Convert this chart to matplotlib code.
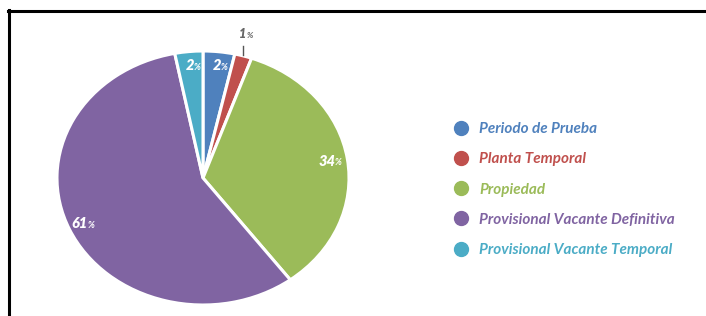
import matplotlib
matplotlib.use("Agg")
import matplotlib.pyplot as plt
from matplotlib.lines import Line2D
import numpy as np

categories = ["Periodo de Prueba", "Planta Temporal", "Propiedad",
              "Provisional Vacante Definitiva", "Provisional Vacante Temporal"]
values = [3.5, 1.9, 34.4, 57.1, 3.1]          # wedge sizes as drawn
pct_labels = ["2", "1", "34", "61", "2"]       # printed percentages
colors = ["#4F81BD", "#C0504D", "#9BBB59", "#8064A2", "#4BACC6"]

W, H = 706, 316
fig = plt.figure(figsize=(W / 100, H / 100), dpi=100)
fig.patch.set_facecolor("white")

# pie axes: maps [-1,1] to pixel box
cx, cy, rx, ry = 203, 178, 146, 127
ax = fig.add_axes([(cx - rx) / W, (H - (cy + ry)) / H, 2 * rx / W, 2 * ry / H])
wedges, _ = ax.pie(values, colors=colors, startangle=90, counterclock=False,
                   radius=1.0, wedgeprops=dict(edgecolor="white", linewidth=2.2))
ax.set_aspect("auto")
ax.set_xlim(-1, 1)
ax.set_ylim(-1, 1)
ax.axis("off")
for w in wedges:
    w.set_clip_on(False)

font = "Lato"

def put_label(x, y, num, color, size, psize):
    ax.text(x + 0.025, y, num, ha="right", va="center", color=color,
            fontsize=size, fontstyle="italic", fontweight="heavy", family=font)
    ax.text(x + 0.025, y - 0.012, "%", ha="left", va="center", color=color,
            fontsize=psize, fontstyle="italic", fontweight="bold", family=font)

for i, w in enumerate(wedges):
    mid = np.deg2rad((w.theta1 + w.theta2) / 2)
    if i == 1:
        # outside label with leader
        ex, ey = np.cos(mid) * 0.99, np.sin(mid) * 0.99
        ax.plot([ex, ex], [ey + 0.02, ey + 0.09], color="#555555", lw=1.0,
                clip_on=False)
        put_label(ex, ey + 0.18, pct_labels[i], "#666666", 9, 6)
    else:
        r = 0.89
        put_label(np.cos(mid) * r, np.sin(mid) * r, pct_labels[i], "white", 10.5, 6.5)

# legend
handles = [Line2D([], [], marker="o", linestyle="none", markersize=10,
                  markerfacecolor=c, markeredgecolor=c) for c in colors]
leg = fig.legend(handles, categories, loc="upper left",
                 bbox_to_anchor=(438 / W, 1 - 108.5 / H), frameon=False,
                 labelspacing=1.06, handletextpad=0.6, handlelength=1.2,
                 prop=dict(family=font, style="italic", weight="bold", size=11))
for t, c in zip(leg.get_texts(), colors):
    t.set_color(c)

# border lines
fig.add_artist(Line2D([8 / W, 1], [1 - 10.5 / H, 1 - 10.5 / H], color="black",
                      lw=2.2, transform=fig.transFigure))
fig.add_artist(Line2D([9 / W, 9 / W], [0, 1 - 9.5 / H], color="black",
                      lw=2.2, transform=fig.transFigure))

fig.savefig("out.png", dpi=100)
